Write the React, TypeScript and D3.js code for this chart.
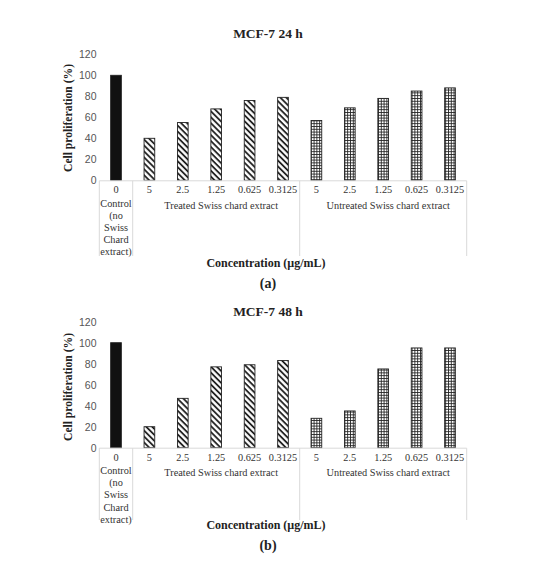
import React from 'react';
import * as d3 from 'd3';

const categories = ['0', '5', '2.5', '1.25', '0.625', '0.3125', '5', '2.5', '1.25', '0.625', '0.3125'];
const seriesType = ['control', 'treated', 'treated', 'treated', 'treated', 'treated', 'untreated', 'untreated', 'untreated', 'untreated', 'untreated'];
const values24h = [100, 40, 55, 68, 76, 79, 57, 69, 78, 85, 88];
const values48h = [100, 20, 47, 77, 79, 83, 28, 35, 75, 95, 95];
const yTicks = [0, 20, 40, 60, 80, 100, 120];
const controlLines = ['Control', '(no', 'Swiss', 'Chard', 'extract)'];
const groupLabels = [
  { label: 'Treated Swiss chard extract', from: 1, to: 5 },
  { label: 'Untreated Swiss chard extract', from: 6, to: 10 },
];
const panelTitles = ['MCF-7 24 h', 'MCF-7 48 h'];
const panelTags = ['(a)', '(b)'];
const xTitle = 'Concentration (µg/mL)';
const yTitle = 'Cell proliferation (%)';

const SERIF = '"Times New Roman", "Liberation Serif", Times, serif';
const SANS = 'Arial, "Liberation Sans", sans-serif';

type PanelProps = {
  values: number[];
  title: string;
  tag: string;
  titleY: number;
  axisY: number;
  topY: number;
  sepBottom: number;
  concY: number;
  tagY: number;
  yLabelY: number;
};

function Panel({ values, title, tag, titleY, axisY, topY, sepBottom, concY, tagY, yLabelY }: PanelProps) {
  const x = d3
    .scaleBand<number>()
    .domain(categories.map((_, i) => i))
    .range([99.3, 466.7])
    .paddingInner(0.68)
    .paddingOuter(0.34);
  const y = d3.scaleLinear().domain([0, 120]).range([axisY, topY]);
  const step = x.step();
  const left = x(0)! - (step - x.bandwidth()) / 2;
  const center = (i: number) => x(i)! + x.bandwidth() / 2;
  const sepXs = [left, left + step, left + 6 * step, left + 11 * step];
  const fillFor = (t: string) => (t === 'control' ? '#111' : t === 'treated' ? 'url(#stripes)' : 'url(#grid)');

  return (
    <g>
      <text x={268} y={titleY} textAnchor="middle" dominantBaseline="central" fontFamily={SERIF} fontWeight="bold" fontSize={13.5} fill="#222">
        {title}
      </text>
      {yTicks.map((t) => (
        <text key={t} x={96.5} y={y(t)} textAnchor="end" dominantBaseline="central" fontFamily={SANS} fontSize={10.5} fill="#555">
          {t}
        </text>
      ))}
      <text
        transform={`translate(68.5,${yLabelY}) rotate(-90)`}
        textAnchor="middle"
        dominantBaseline="central"
        fontFamily={SERIF}
        fontWeight="bold"
        fontSize={11.6}
        fill="#222"
      >
        {yTitle}
      </text>
      {values.map((v, i) => (
        <rect
          key={i}
          x={x(i)}
          y={y(v)}
          width={x.bandwidth()}
          height={axisY - y(v)}
          fill={fillFor(seriesType[i])}
          stroke="#222"
          strokeWidth={0.9}
        />
      ))}
      <line x1={left} x2={left + 11 * step} y1={axisY + 0.5} y2={axisY + 0.5} stroke="#d9d9d9" strokeWidth={1} />
      {sepXs.map((sx, i) => (
        <line key={i} x1={sx} x2={sx} y1={axisY + 0.5} y2={sepBottom} stroke="#d9d9d9" strokeWidth={1} />
      ))}
      {categories.map((c, i) => (
        <text key={i} x={center(i)} y={axisY + 9.5} textAnchor="middle" dominantBaseline="central" fontFamily={SERIF} fontSize={10.3} fill="#333">
          {c}
        </text>
      ))}
      {controlLines.map((l, k) => (
        <text key={k} x={center(0)} y={axisY + 22.8 + k * 12.2} textAnchor="middle" dominantBaseline="central" fontFamily={SERIF} fontSize={10.3} fill="#333">
          {l}
        </text>
      ))}
      {groupLabels.map((g) => (
        <text
          key={g.label}
          x={(center(g.from) + center(g.to)) / 2 + 5}
          y={axisY + 25}
          textAnchor="middle"
          dominantBaseline="central"
          fontFamily={SERIF}
          fontSize={10.3}
          fill="#333"
        >
          {g.label}
        </text>
      ))}
      <text x={266} y={concY} textAnchor="middle" dominantBaseline="central" fontFamily={SERIF} fontWeight="bold" fontSize={12} fill="#222">
        {xTitle}
      </text>
      <text x={268} y={tagY} textAnchor="middle" dominantBaseline="central" fontFamily={SERIF} fontWeight="bold" fontSize={14} fill="#222">
        {tag}
      </text>
    </g>
  );
}

export default function App() {
  return (
    <div style={{ position: 'absolute', left: 0, top: 0, background: '#fff' }}>
      <svg width={541} height={578} viewBox="0 0 541 578" style={{ display: 'block' }}>
        <defs>
          <pattern id="stripes" patternUnits="userSpaceOnUse" width={4.2} height={4.2} patternTransform="rotate(45)">
            <rect width={4.2} height={4.2} fill="#fff" />
            <line x1={0} x2={4.2} y1={1} y2={1} stroke="#111" strokeWidth={1.7} />
          </pattern>
          <pattern id="grid" patternUnits="userSpaceOnUse" width={2.8} height={2.8}>
            <rect width={2.8} height={2.8} fill="#fff" />
            <line x1={0} x2={2.8} y1={0.45} y2={0.45} stroke="#222" strokeWidth={0.9} />
            <line x1={0.45} x2={0.45} y1={0} y2={2.8} stroke="#222" strokeWidth={0.9} />
          </pattern>
        </defs>
        <rect width={541} height={578} fill="#fff" />
        <Panel
          values={values24h}
          title={panelTitles[0]}
          tag={panelTags[0]}
          titleY={33.5}
          axisY={180.3}
          topY={54.3}
          sepBottom={256}
          concY={262.7}
          tagY={283.3}
          yLabelY={118}
        />
        <Panel
          values={values48h}
          title={panelTitles[1]}
          tag={panelTags[1]}
          titleY={311.7}
          axisY={447.7}
          topY={321.7}
          sepBottom={520}
          concY={525}
          tagY={545}
          yLabelY={387}
        />
      </svg>
    </div>
  );
}
